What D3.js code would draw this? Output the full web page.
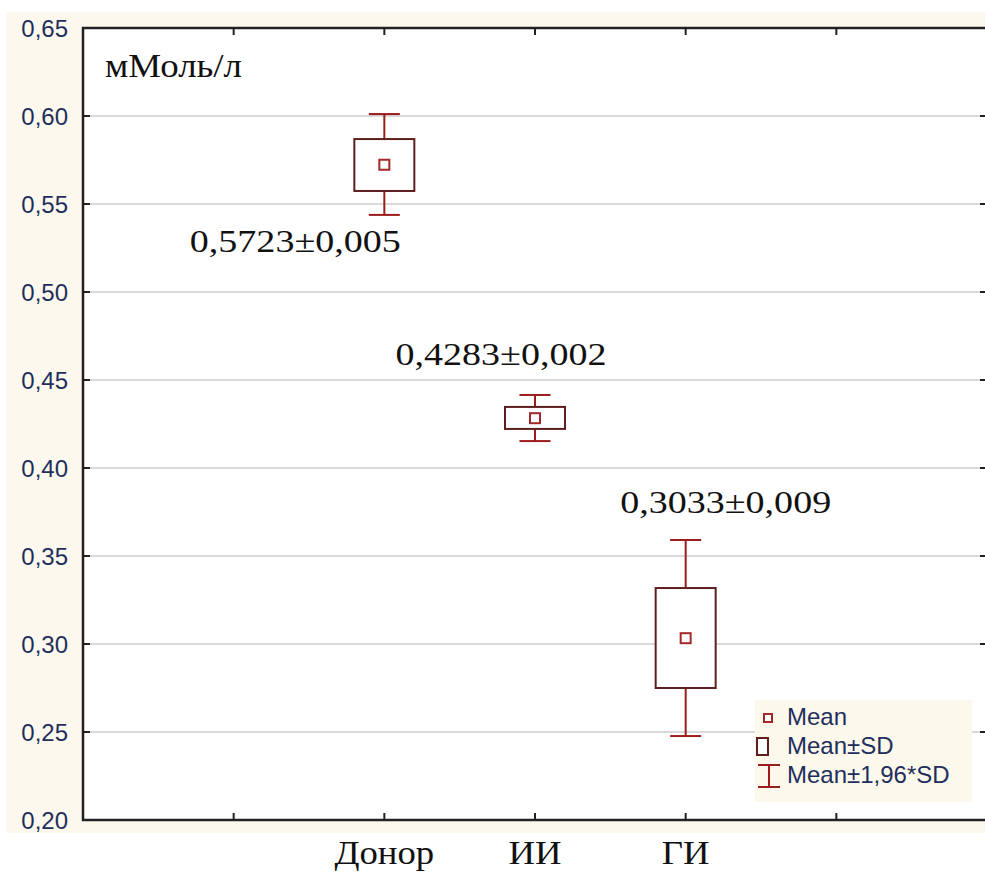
<!DOCTYPE html>
<html>
<meta charset='utf-8'>
<head>
<title>мМоль/л</title>
<script src='https://d3js.org/d3.v7.min.js'></script>
<style>
body { margin: 0; background: #fff; }
</style>
</head>
<body>
<div id='chart'></div>
<script>
// values
var categories = ['Донор', 'ИИ', 'ГИ'];
var means   = [0.5723, 0.4283, 0.3033];
var sdLow   = [0.5574, 0.4222, 0.2750];
var sdHigh  = [0.5869, 0.4347, 0.3318];
var ciLow   = [0.5438, 0.4153, 0.2477];
var ciHigh  = [0.6011, 0.4415, 0.3591];
var labels  = ['0,5723±0,005', '0,4283±0,002', '0,3033±0,009'];
var yTicks  = [0.20, 0.25, 0.30, 0.35, 0.40, 0.45, 0.50, 0.55, 0.60, 0.65];
var legendItems = ['Mean', 'Mean±SD', 'Mean±1,96*SD'];

var W = 985, H = 872;
var pLeft = 83, pRight = 987, pTop = 28, pBottom = 820;
var boxCol = '#5e1e1e', whiskCol = '#9c1c1c', meanCol = '#a3282a';
var tickCol = '#1e2f5c';

var svg = d3.select('#chart').append('svg')
    .attr('width', W).attr('height', H);

// cream backdrop
svg.append('rect')
    .attr('x', 6).attr('y', 12).attr('width', W - 6).attr('height', 821)
    .attr('fill', '#fdf8ee');
svg.append('rect')
    .attr('x', pLeft).attr('y', pTop).attr('width', pRight - pLeft).attr('height', pBottom - pTop)
    .attr('fill', '#fff');

var y = d3.scaleLinear().domain([0.20, 0.65]).range([pBottom, pTop]);
var x = d3.scalePoint().domain(categories).range([pLeft, pRight]).padding(2);
var step = x.step();
var xTicks = [x(categories[0]) - step].concat(categories.map(function(c) { return x(c); }))
    .concat([x(categories[categories.length - 1]) + step]);

var fmt = function(v) { return d3.format('.2f')(v).replace('.', ','); };

// grid
svg.selectAll('.grid').data(yTicks.slice(1, -1)).enter().append('line')
    .attr('x1', pLeft).attr('x2', pRight)
    .attr('y1', function(d) { return y(d); }).attr('y2', function(d) { return y(d); })
    .attr('stroke', '#d9d9d9').attr('stroke-width', 2);

// inward ticks
svg.selectAll('.ytl').data(yTicks).enter().append('line')
    .attr('x1', pLeft).attr('x2', pLeft + 7)
    .attr('y1', function(d) { return y(d); }).attr('y2', function(d) { return y(d); })
    .attr('stroke', '#222').attr('stroke-width', 2);
svg.selectAll('.ytr').data(yTicks).enter().append('line')
    .attr('x1', pRight - 7).attr('x2', pRight)
    .attr('y1', function(d) { return y(d); }).attr('y2', function(d) { return y(d); })
    .attr('stroke', '#222').attr('stroke-width', 2);
svg.selectAll('.xtb').data(xTicks).enter().append('line')
    .attr('x1', function(d) { return d; }).attr('x2', function(d) { return d; })
    .attr('y1', pBottom).attr('y2', pBottom - 7)
    .attr('stroke', '#222').attr('stroke-width', 2);
svg.selectAll('.xtt').data(xTicks).enter().append('line')
    .attr('x1', function(d) { return d; }).attr('x2', function(d) { return d; })
    .attr('y1', pTop).attr('y2', pTop + 7)
    .attr('stroke', '#222').attr('stroke-width', 2);

// frame
svg.append('rect')
    .attr('x', pLeft).attr('y', pTop).attr('width', pRight - pLeft).attr('height', pBottom - pTop)
    .attr('fill', 'none').attr('stroke', '#222').attr('stroke-width', 2.5);

// y tick labels
svg.selectAll('.ylab').data(yTicks).enter().append('text')
    .attr('x', 68).attr('y', function(d) { return y(d); })
    .attr('dy', '0.36em')
    .attr('text-anchor', 'end')
    .attr('font-family', 'Liberation Sans, Arial, sans-serif')
    .attr('font-size', 24)
    .attr('fill', tickCol)
    .text(fmt);

// x labels
svg.selectAll('.xlab').data(categories).enter().append('text')
    .attr('x', function(d) { return x(d); }).attr('y', 864)
    .attr('text-anchor', 'middle')
    .attr('font-family', 'Liberation Serif, Times New Roman, serif')
    .attr('font-size', 34)
    .attr('fill', '#111')
    .attr('transform', function(d) { return 'translate(' + x(d) + ',0) scale(1.08,1) translate(' + (-x(d)) + ',0)'; })
    .text(function(d) { return d; });

// unit
svg.append('text')
    .attr('x', 105).attr('y', 77)
    .attr('font-family', 'Liberation Serif, Times New Roman, serif')
    .attr('font-size', 33)
    .attr('fill', '#111')
    .attr('textLength', 137).attr('lengthAdjust', 'spacingAndGlyphs')
    .text('мМоль/л');

var boxW = 60, capW = 31, mk = 10;
var idx = d3.range(categories.length);

// whiskers, boxes, means
var g = svg.append('g');
idx.forEach(function(i) {
    var cx = x(categories[i]);
    g.append('line').attr('x1', cx).attr('x2', cx).attr('y1', y(ciHigh[i])).attr('y2', y(ciLow[i]))
        .attr('stroke', whiskCol).attr('stroke-width', 2);
    [ciHigh[i], ciLow[i]].forEach(function(v) {
        g.append('line').attr('x1', cx - capW / 2).attr('x2', cx + capW / 2)
            .attr('y1', y(v)).attr('y2', y(v))
            .attr('stroke', whiskCol).attr('stroke-width', 2);
    });
    g.append('rect')
        .attr('x', cx - boxW / 2).attr('y', y(sdHigh[i]))
        .attr('width', boxW).attr('height', y(sdLow[i]) - y(sdHigh[i]))
        .attr('fill', '#fff').attr('stroke', boxCol).attr('stroke-width', 2);
    g.append('rect')
        .attr('x', cx - mk / 2).attr('y', y(means[i]) - mk / 2)
        .attr('width', mk).attr('height', mk)
        .attr('fill', '#fff').attr('stroke', meanCol).attr('stroke-width', 2);
});

// value annotations (offset from each category)
var annDx = [-89, -34, 40];
var annBase = [252, 365, 513];
svg.selectAll('.ann').data(labels).enter().append('text')
    .attr('x', function(d, i) { return x(categories[i]) + annDx[i]; })
    .attr('y', function(d, i) { return annBase[i]; })
    .attr('text-anchor', 'middle')
    .attr('font-family', 'Liberation Serif, Times New Roman, serif')
    .attr('font-size', 32)
    .attr('fill', '#111')
    .attr('textLength', 211).attr('lengthAdjust', 'spacingAndGlyphs')
    .text(function(d) { return d; });

// legend
var lg = svg.append('g').attr('transform', 'translate(755,700)');
lg.append('rect').attr('width', 217).attr('height', 102).attr('fill', '#fdf8ec');
lg.append('rect').attr('x', 9).attr('y', 14).attr('width', 8).attr('height', 8)
    .attr('fill', '#fff').attr('stroke', meanCol).attr('stroke-width', 2);
lg.append('rect').attr('x', 2).attr('y', 38).attr('width', 11).attr('height', 17)
    .attr('fill', '#fff').attr('stroke', boxCol).attr('stroke-width', 2);
lg.append('line').attr('x1', 14).attr('x2', 14).attr('y1', 65).attr('y2', 87)
    .attr('stroke', whiskCol).attr('stroke-width', 2);
lg.append('line').attr('x1', 3).attr('x2', 25).attr('y1', 65).attr('y2', 65)
    .attr('stroke', whiskCol).attr('stroke-width', 2);
lg.append('line').attr('x1', 3).attr('x2', 25).attr('y1', 87).attr('y2', 87)
    .attr('stroke', whiskCol).attr('stroke-width', 2);
lg.selectAll('.lt').data(legendItems).enter().append('text')
    .attr('x', 32).attr('y', function(d, i) { return 25 + i * 29; })
    .attr('font-family', 'Liberation Sans, Arial, sans-serif')
    .attr('font-size', 24)
    .attr('fill', tickCol)
    .text(function(d) { return d; });
</script>
</body>
</html>
